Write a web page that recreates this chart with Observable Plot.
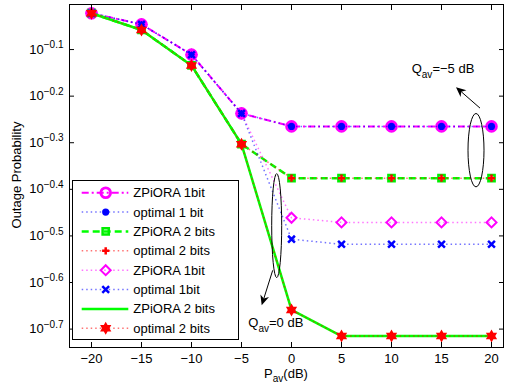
<!DOCTYPE html>
<html><head><meta charset="utf-8">
<script src="https://cdn.jsdelivr.net/npm/d3@7"></script>
<script src="https://cdn.jsdelivr.net/npm/@observablehq/plot@0.6"></script>
<style>
body{margin:0;background:#fff}
svg{font-family:"Liberation Sans",Arial,Helvetica,sans-serif}
</style>
</head><body><div id="chart"></div>
<script>
// ---- data ----
const pav = [-20, -15, -10, -5, 0, 5, 10, 15, 20];
const zpiora1_q5 = [0.9506, 0.8995, 0.7745, 0.5794, 0.5433, 0.5433, 0.5433, 0.5433, 0.5433];
const optimal1_q5 = [0.9506, 0.8995, 0.7745, 0.5794, 0.5433, 0.5433, 0.5433, 0.5433, 0.5433];
const zpiora2_q5 = [0.9506, 0.8750, 0.7345, 0.4977, 0.4207, 0.4207, 0.4207, 0.4207, 0.4207];
const optimal2_q5 = [0.9506, 0.8750, 0.7345, 0.4977, 0.4207, 0.4207, 0.4207, 0.4207, 0.4207];
const zpiora1_q0 = [0.9506, 0.8995, 0.7745, 0.5794, 0.3459, 0.3381, 0.3381, 0.3381, 0.3381];
const optimal1_q0 = [0.9506, 0.8995, 0.7745, 0.5794, 0.3112, 0.3034, 0.3034, 0.3034, 0.3034];
const zpiora2_q0 = [0.9506, 0.8750, 0.7345, 0.4977, 0.2193, 0.1928, 0.1928, 0.1928, 0.1928];
const optimal2_q0 = [0.9506, 0.8750, 0.7345, 0.4977, 0.2193, 0.1928, 0.1928, 0.1928, 0.1928];
const seriesNames = ["ZPiORA 1bit", "optimal 1 bit", "ZPiORA 2 bits", "optimal 2 bits",
                     "ZPiORA 1bit", "optimal 1bit", "ZPiORA 2 bits", "optimal 2 bits"];
const xTicks = [-20, -15, -10, -5, 0, 5, 10, 15, 20];
const yTickExps = [-0.7, -0.6, -0.5, -0.4, -0.3, -0.2, -0.1];
// annotations in data coordinates
const ellipses = [{x: 18.5, y: 0.4819, rx: 8, ry: 36.7}, {x: -1.43, y: 0.3319, rx: 5, ry: 52}];
const arrows = [{x1: 18.9, y1: 0.5933, x2: 16.5, y2: 0.6580}, {x1: -1.83, y1: 0.2661, x2: -2.93, y2: 0.2239}];
const notes = [{x: 12.07, y: 0.7054, val: "=−5 dB"}, {x: -4.27, y: 0.2011, val: "=0 dB"}];

// ---- custom symbols (size -> radius r = sqrt(size/PI)) ----
const R = s => Math.sqrt(s / Math.PI);
const symCircle = {draw(c, s){ const r = R(s); c.moveTo(r, 0); c.arc(0, 0, r, 0, 2 * Math.PI); c.closePath(); }};
const symSquare = {draw(c, s){ const r = R(s); c.rect(-r, -r, 2 * r, 2 * r); }};
const symPlus = {draw(c, s){ const r = R(s); c.moveTo(-r, 0); c.lineTo(r, 0); c.moveTo(0, -r); c.lineTo(0, r); }};
const symTimes = {draw(c, s){ const r = R(s); c.moveTo(-r, -r); c.lineTo(r, r); c.moveTo(-r, r); c.lineTo(r, -r); }};
const symDiamond = {draw(c, s){ const r = R(s); c.moveTo(0, -r); c.lineTo(r, 0); c.lineTo(0, r); c.lineTo(-r, 0); c.closePath(); }};
const symHexagram = {draw(c, s){ const r = R(s), ri = r / Math.sqrt(3);
  for (let k = 0; k < 12; k++) { const a = -Math.PI / 2 + k * Math.PI / 6, rr = k % 2 ? ri : r;
    const px = rr * Math.cos(a), py = rr * Math.sin(a); k ? c.lineTo(px, py) : c.moveTo(px, py); }
  c.closePath(); }};

const dotted = "1.5,3";
const styles = [
  {vals: zpiora1_q5, stroke: "#ff00ff", sw: 2, dash: "7,3,2,3", op: 1, sym: symCircle, r: 4.9, fill: "none", mstroke: "#ff00ff", msw: 2.8},
  {vals: optimal1_q5, stroke: "#0000ff", sw: 1.5, dash: dotted, op: 0.55, sym: symCircle, r: 3.6, fill: "#0000ff", mstroke: "none", msw: 0},
  {vals: zpiora2_q5, stroke: "#00ff00", sw: 2.5, dash: "7,4", op: 1, sym: symSquare, r: 3.1, fill: "none", mstroke: "#00ee00", msw: 2.5},
  {vals: optimal2_q5, stroke: "#ff0000", sw: 1.5, dash: dotted, op: 0.55, sym: symPlus, r: 3.6, fill: "none", mstroke: "#ff0000", msw: 2.5},
  {vals: zpiora1_q0, stroke: "#ff00ff", sw: 1.5, dash: dotted, op: 0.55, sym: symDiamond, r: 5, fill: "none", mstroke: "#ff00ff", msw: 2},
  {vals: optimal1_q0, stroke: "#0000ff", sw: 1.5, dash: dotted, op: 0.55, sym: symTimes, r: 3.4, fill: "none", mstroke: "#0000ff", msw: 2.5},
  {vals: zpiora2_q0, stroke: "#00ff00", sw: 2.5, dash: null, op: 1, sym: null},
  {vals: optimal2_q0, stroke: "#ff0000", sw: 1.5, dash: dotted, op: 0.55, sym: symHexagram, r: 6.5, fill: "#ff0000", mstroke: "none", msw: 0}
];

const fmtX = d => d < 0 ? "−" + (-d) : String(d);
const seriesMarks = [];
styles.forEach(s => {
  const rows = pav.map((x, i) => ({x, y: s.vals[i]}));
  seriesMarks.push(Plot.line(rows, {x: "x", y: "y", stroke: s.stroke, strokeWidth: s.sw,
    strokeDasharray: s.dash || undefined, strokeOpacity: s.op, strokeLinecap: "butt"}));
  if (s.sym) seriesMarks.push(Plot.dot(rows, {x: "x", y: "y", symbol: s.sym, r: s.r,
    fill: s.fill, stroke: s.mstroke, strokeWidth: s.msw}));
});

function annotationMark(index, scales) {
  const g = d3.create("svg:g");
  ellipses.forEach(e => g.append("ellipse").attr("cx", scales.x(e.x)).attr("cy", scales.y(e.y))
    .attr("rx", e.rx).attr("ry", e.ry).attr("fill", "none").attr("stroke", "black").attr("stroke-width", 1));
  arrows.forEach(a => {
    const x1 = scales.x(a.x1), y1 = scales.y(a.y1), x2 = scales.x(a.x2), y2 = scales.y(a.y2);
    const ang = Math.atan2(y2 - y1, x2 - x1), L = 10, W = 4.5, N = 7;
    const ux = Math.cos(ang), uy = Math.sin(ang), nx = -uy, ny = ux;
    g.append("line").attr("x1", x1).attr("y1", y1).attr("x2", x2 - ux * N).attr("y2", y2 - uy * N)
      .attr("stroke", "black").attr("stroke-width", 1);
    const pts = [[x2, y2], [x2 - ux * L + nx * W, y2 - uy * L + ny * W], [x2 - ux * N, y2 - uy * N],
                 [x2 - ux * L - nx * W, y2 - uy * L - ny * W]];
    g.append("path").attr("d", "M" + pts.map(p => p.join(",")).join("L") + "Z").attr("fill", "black");
  });
  notes.forEach(n => {
    const t = g.append("text").attr("x", scales.x(n.x)).attr("y", scales.y(n.y))
      .attr("text-anchor", "start").attr("font-size", 13).attr("fill", "black");
    t.append("tspan").text("Q");
    t.append("tspan").attr("dy", 5).attr("font-size", 10).text("av");
    t.append("tspan").attr("dy", -5).text(n.val);
  });
  return g.node();
}

const plot = Plot.plot({
  width: 506, height: 387,
  marginLeft: 69, marginRight: 3, marginTop: 4, marginBottom: 40,
  style: {fontFamily: "'Liberation Sans', Arial, sans-serif", fontSize: "13px", color: "black", background: "white"},
  x: {domain: [-22.2, 21.2]},
  y: {type: "log", domain: [10 ** -0.7395, 10 ** -0.0033]},
  marks: [
    ...seriesMarks,
    annotationMark,
    Plot.frame({stroke: "black", strokeWidth: 1}),
    Plot.axisX({anchor: "bottom", ticks: xTicks, tickSize: -5, tickPadding: 11, tickFormat: fmtX, label: null}),
    Plot.axisX({anchor: "top", ticks: xTicks, tickSize: -5, tickFormat: () => "", label: null}),
    Plot.axisY({anchor: "left", ticks: yTickExps.map(e => 10 ** e), tickSize: -5, tickPadding: 11,
      tickFormat: d => String(Math.round(Math.log10(d) * 10) / 10), label: null}),
    Plot.axisY({anchor: "right", ticks: yTickExps.map(e => 10 ** e), tickSize: -5, tickFormat: () => "", label: null})
  ]
});

const svg = d3.select(plot);
// superscript y tick labels
svg.selectAll('g[aria-label="y-axis tick label"] text').each(function() {
  const t = d3.select(this), v = t.text();
  if (!v) return;
  t.text("");
  t.append("tspan").text("10");
  t.append("tspan").attr("dy", "-0.55em").attr("font-size", 10).text(v.replace("-", "−"));
});
// axis labels
svg.append("text").attr("transform", "translate(21,175) rotate(-90)").attr("text-anchor", "middle")
  .attr("font-size", 13).attr("fill", "black").text("Outage Probability");
const xl = svg.append("text").attr("x", 286).attr("y", 377.5).attr("text-anchor", "middle").attr("font-size", 13).attr("fill", "black");
xl.append("tspan").text("P");
xl.append("tspan").attr("dy", 4).attr("font-size", 10).text("av");
xl.append("tspan").attr("dy", -4).text("(dB)");
// legend
const lg = svg.append("g");
lg.append("rect").attr("x", 72.5).attr("y", 180.5).attr("width", 166).attr("height", 159)
  .attr("fill", "white").attr("stroke", "black").attr("stroke-width", 1);
styles.forEach((s, i) => {
  const cy = 192.7 + i * 19.37;
  lg.append("line").attr("x1", 81.7).attr("x2", 128.3).attr("y1", cy).attr("y2", cy)
    .attr("stroke", s.stroke).attr("stroke-width", s.sw).attr("stroke-dasharray", s.dash)
    .attr("stroke-opacity", s.op);
  if (s.sym) lg.append("path").attr("transform", `translate(105.7,${cy})`)
    .attr("d", d3.symbol().type(s.sym).size(Math.PI * s.r * s.r)())
    .attr("fill", s.fill).attr("stroke", s.mstroke).attr("stroke-width", s.msw);
  lg.append("text").attr("x", 133.3).attr("y", cy).attr("dy", "0.35em").attr("text-anchor", "start")
    .attr("font-size", 13).attr("fill", "black").text(seriesNames[i]);
});
document.getElementById("chart").appendChild(plot);
</script>
</body></html>
